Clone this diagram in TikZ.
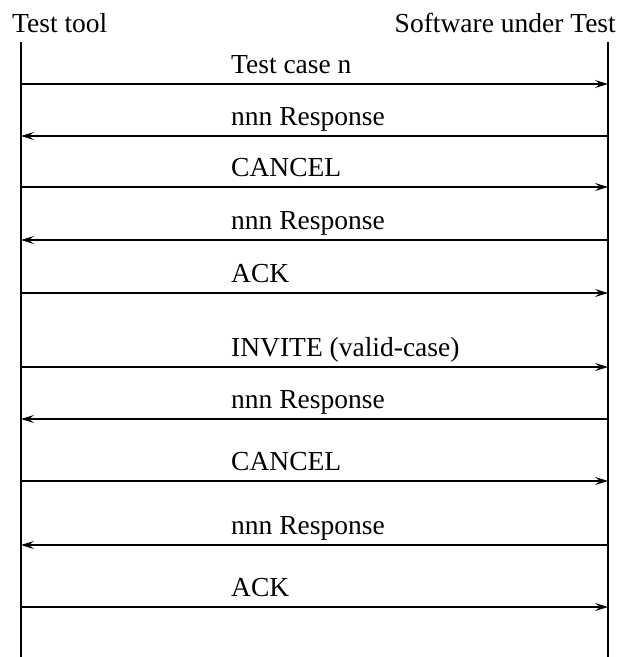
\documentclass[tikz,border=0pt]{standalone}
\usepackage{fontspec}
\setmainfont{Liberation Serif}
\usetikzlibrary{arrows.meta}

\tikzset{
  lifeline/.style={line width=1.6pt},
  msgline/.style={line width=1.6pt, -{Stealth[length=13pt,width=8pt,inset=5pt]}},
  msglabel/.style={anchor=base west, inner sep=0pt}
}

\begin{document}
\begin{tikzpicture}[x=1pt, y=-1pt, font=\fontsize{27.5}{33}\selectfont]
                \useasboundingbox (0,0) rectangle (621,657);
%
                \node [anchor=base west, inner sep=0pt] (tool) at (12,32) {Test tool};
                \node [anchor=base east, inner sep=0pt] (sut) at (616,32) {Software under Test};
                \coordinate (tooltop) at (21,42);
                \coordinate (toolbot) at (21,657);
                \coordinate (suttop) at (608,42);
                \coordinate (sutbot) at (608,657);
                \draw [lifeline] (tooltop) -- (toolbot);
                \draw [lifeline] (suttop) -- (sutbot);
%
                \foreach \i/\y/\txt/\dir in {1/84/Test case n/r, 2/136/nnn Response/l,
                    3/187/CANCEL/r, 4/240/nnn Response/l, 5/293/ACK/r,
                    6/367/INVITE (valid-case)/r, 7/419/nnn Response/l,
                    8/481/CANCEL/r, 9/545/nnn Response/l, 10/607/ACK/r} {
                    \coordinate (t\i) at (21,\y);
                    \coordinate (s\i) at (608,\y);
                    \node [msglabel] (m\i) at (231,\y-11) {\txt};
                    \if\dir r
                        \draw [msgline] (t\i) -- (s\i);
                    \else
                        \draw [msgline] (s\i) -- (t\i);
                    \fi
                }
            \end{tikzpicture}
\end{document}
